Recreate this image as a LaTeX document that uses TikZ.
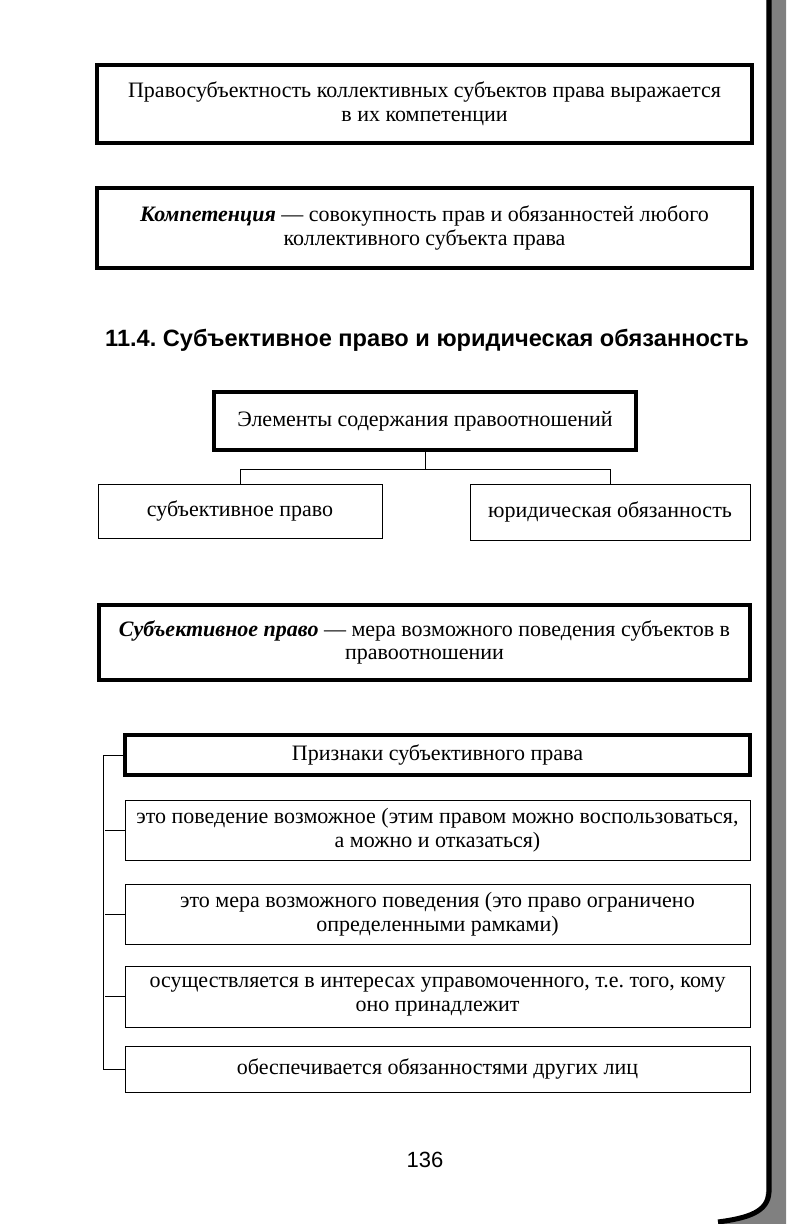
\documentclass[tikz,border=0pt]{standalone}
\usepackage{fontspec}
\setmainfont{Liberation Serif}
\setsansfont{Liberation Sans}
\frenchspacing
\usetikzlibrary{positioning,calc}
\tikzset{
  frame/.style = {draw, line width=1.7pt, align=center, inner sep=0pt},
  thin frame/.style = {draw, line width=0.5pt, align=center, inner sep=0pt},
}
\begin{document}
\begin{tikzpicture}[x=0.5pt,y=-0.5pt,font=\fontsize{11}{11.8}\selectfont]
  \useasboundingbox (0,0) rectangle (786,1224);
  % page edge
  \fill[black!50] (766,0) -- (766,1192) .. controls (765,1214) and (745,1220) .. (718,1224) -- (786,1224) -- (786,0) -- cycle;
  \draw[line width=2.5pt] (769,0) -- (769,1192) .. controls (768,1212) and (748,1218) .. (718,1222);

  \node[frame, minimum width=327.5pt, minimum height=39pt] (pravo) at (424.5,104)
    {Правосубъектность коллективных субъектов права выражается\\в их компетенции};
  \node[frame, minimum width=327.5pt, minimum height=40pt] (komp) at (424.5,228)
    {\textbf{\textit{Компетенция}} — совокупность прав и обязанностей любого\\коллективного субъекта права};

  \node[font=\sffamily\bfseries\fontsize{11.8}{13}\selectfont] (title) at (427,340)
    {11.4.\ Субъективное\ право\ и\ юридическая\ обязанность};

  \node[frame, minimum width=211pt, minimum height=29pt] (elem) at (425,421)
    {Элементы содержания правоотношений};
  \node[thin frame, minimum width=142pt, minimum height=27pt] (subj) at (240,511)
    {субъективное право};
  \node[thin frame, minimum width=140pt, minimum height=28pt] (obyaz) at (610,512)
    {юридическая обязанность};
  \draw[line width=0.5pt] (elem.south) -- ++(0,18) coordinate (fork);
  \draw[line width=0.5pt] (fork) -| (subj.north);
  \draw[line width=0.5pt] (fork) -| (obyaz.north);

  \node[frame, minimum width=325.5pt, minimum height=37.5pt] (opr) at (424.5,642.5)
    {\textbf{\textit{Субъективное право}} — мера возможного поведения субъектов в\\правоотношении};

  \node[frame, minimum width=312.5pt, minimum height=20pt] (priz) at (437.5,755)
    {Признаки субъективного права};
  \foreach \txt/\y/\h [count=\i] in {
    {это поведение возможное (этим правом можно воспользоваться,\\а можно и отказаться)}/830/30,
    {это мера возможного поведения (это право ограничено\\определенными рамками)}/914/30,
    {осуществляется в интересах управомоченного, т.е. того, кому\\оно принадлежит}/996.5/30.5,
    {обеспечивается обязанностями других лиц}/1069/23
  }{
    \node[thin frame, minimum width=312.5pt, minimum height=\h pt] (p\i) at (437.5,\y) {\txt};
    \draw[line width=0.5pt] (p\i.west) -- ++(-20,0);
  }
  \draw[line width=0.5pt] (priz.west) -- ++(-20,0) |- (p4.west);

  \node[font=\sffamily\fontsize{11}{13}\selectfont] (page) at (425,1160) {136};
\end{tikzpicture}
\end{document}
